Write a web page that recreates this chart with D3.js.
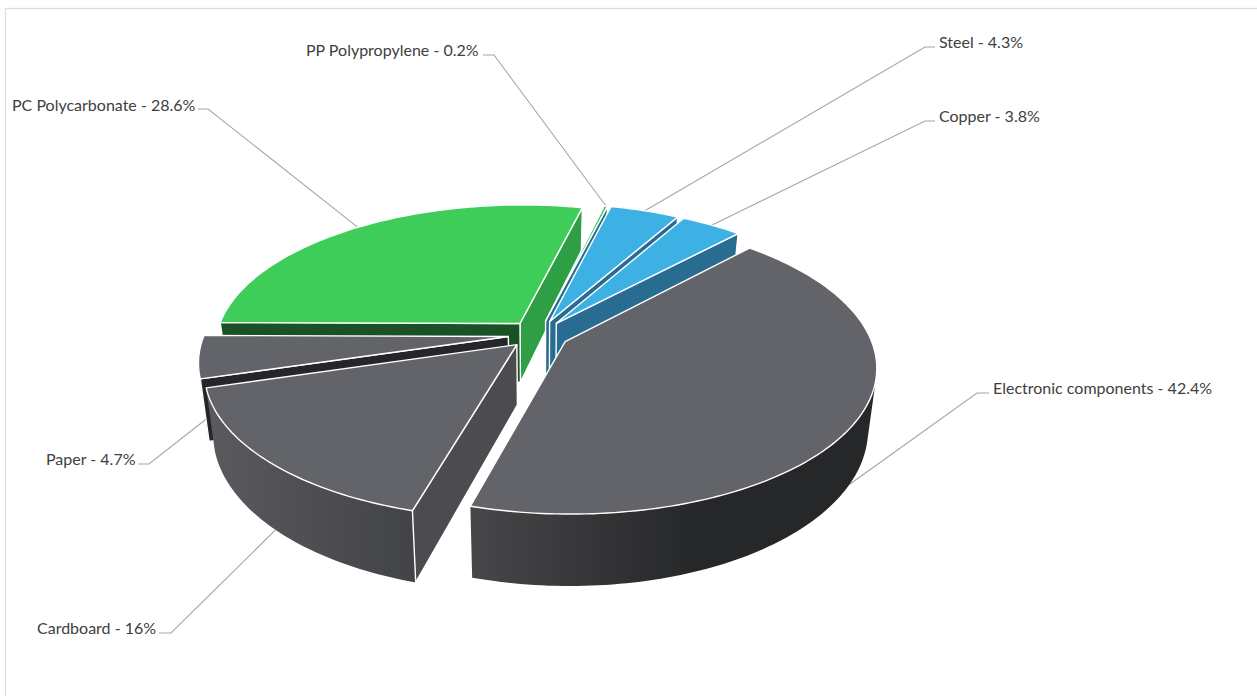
<!DOCTYPE html>
<html>
<head>
<meta charset="utf-8">
<title>Material composition</title>
<script src="https://cdn.jsdelivr.net/npm/d3@7"></script>
<style>
	body { margin: 0; background: #fff; }
	text { font-family: Lato, sans-serif; font-size: 16px; fill: #404040; }
</style>
</head>
<body>
<div id="chart"></div>
<script>
// Chart data, clockwise from the first slice
var categories = ["Electronic components", "Cardboard", "Paper", "PC Polycarbonate", "PP Polypropylene", "Steel", "Copper"];
var shares = [42.4, 16, 4.7, 28.6, 0.2, 4.3, 3.8];
var shareLabels = ["42.4%", "16%", "4.7%", "28.6%", "0.2%", "4.3%", "3.8%"];

// Colours per slice
var topColors = ["#626469", "#626469", "#626469", "#3dcd58", "#3dcd58", "#3eb1e4", "#3eb1e4"];
var startWallColors = ["#262729", "#4c4b50", "#252628", "#1a5226", "#286d91", "#286d91", "#286d91"];
var endWallColors = ["#262729", "#4c4b50", "#252628", "#2f9f45", "#286d91", "#286d91", "#286d91"];
var rimLeftColors = ["#47474a", "#5a5a5f", "#252628", "#2f9f45", "#286d91", "#286d91", "#286d91"];
var rimRightColors = ["#262729", "#424346", "#252628", "#2f9f45", "#286d91", "#286d91", "#286d91"];

// Label layout: text start, baseline and the elbow of the leader line
var labelX = [993, 37, 46, 12, 306, 939, 939];
var labelY = [394, 634, 465, 110.5, 56, 48, 122];
var elbowX = [977, 171, 149, 208, 494, 925, 925];
var elbowY = [393, 633, 464, 109, 55, 47, 121];
var lineStartX = [989, 159, 138, 198, 483, 935, 935];
var frontSlice = [true, true, true, false, false, false, false];

var width = 1257, height = 696;
var centerX = 538.5, centerY = 334.5;
var radiusX = 304, radiusY = 141.5;
var perspective = 0.165, explode = 0.1;
var wallHeight = 59.5, bottomShrink = 0.974;

var xScale = d3.scaleLinear().domain([-1, 1]).range([centerX - radiusX, centerX + radiusX]);
var yScale = d3.scaleLinear().domain([-1, 1]).range([centerY - radiusY, centerY + radiusY]);

var svg = d3.select("#chart").append("svg").attr("width", width).attr("height", height);
var defs = svg.append("defs");
var line = d3.line();

// Outer frame of the chart area, it runs off the picture on the right and bottom
svg.append("rect").attr("x", 5.5).attr("y", 8.5).attr("width", width + 20).attr("height", height + 20)
	.attr("fill", "none").attr("stroke", "#dedede").attr("stroke-width", 1.3);

// Projects a point of the pie plane on the screen. top == false gives the point under it on the bottom face.
function project(u, v, top){
	var w = 1 - perspective * v;
	var x = xScale(u / w), y = yScale(v / w);
	if(!top){
		x = centerX + (x - centerX) * bottomShrink;
		y = y + wallHeight / w;
	}
	return [x, y];
}

// Plane position of the slice apex (r=0) or of a point on its rim (r=1), moved out along the slice middle
function planePoint(slice, angle, r){
	var mid = (slice.startAngle + slice.endAngle) / 2;
	return [explode * Math.sin(mid) + r * Math.sin(angle), -explode * Math.cos(mid) - r * Math.cos(angle)];
}

function screenPoint(slice, angle, r, top){
	var p = planePoint(slice, angle, r);
	return project(p[0], p[1], top);
}

function rimPoints(slice, top){
	var steps = Math.max(2, Math.ceil((slice.endAngle - slice.startAngle) / 0.02));
	return d3.range(steps + 1).map(function(i){
		return screenPoint(slice, slice.startAngle + (slice.endAngle - slice.startAngle) * i / steps, 1, top);
	});
}

function wallPoints(slice, angle){
	return [screenPoint(slice, angle, 0, true), screenPoint(slice, angle, 1, true),
		screenPoint(slice, angle, 1, false), screenPoint(slice, angle, 0, false)];
}

function drawFace(group, points, fill){
	group.append("path").attr("d", line(points) + "Z").attr("fill", fill)
		.attr("stroke", "#fff").attr("stroke-width", 1.4).attr("stroke-linejoin", "round");
}

// Round wall as one path of small quads, all wound the same way so the folds at the pie's sides stay filled
function drawRimWall(group, rimTop, rimBottom, fill){
	var d = "";
	for(var k = 0; k < rimTop.length - 1; k++){
		var quad = [rimTop[k], rimTop[k + 1], rimBottom[k + 1], rimBottom[k]];
		if(d3.polygonArea(quad) < 0){
			quad.reverse();
		}
		d += line(quad) + "Z";
	}
	group.append("path").attr("d", d).attr("fill", fill);
}

// The first slice starts so that PC Polycarbonate starts at the left of the pie (the chart is turned a little more)
var shareSum = d3.sum(shares);
var firstAngle = 1.5 * Math.PI + 0.007 - 2 * Math.PI * d3.sum(shares.slice(0, 3)) / shareSum;
var slices = d3.pie().sort(null).startAngle(firstAngle).endAngle(firstAngle + 2 * Math.PI)(shares);

// Leader lines go under the pie
slices.forEach(function(slice, i){
	var mid = (slice.startAngle + slice.endAngle) / 2;
	var end = screenPoint(slice, mid, 1, !frontSlice[i]);
	svg.append("path").attr("d", line([[lineStartX[i], elbowY[i]], [elbowX[i], elbowY[i]], end]))
		.attr("fill", "none").attr("stroke", "#a6a6a6").attr("stroke-width", 1.1);
	svg.append("text").attr("x", labelX[i]).attr("y", labelY[i]).text(categories[i] + " - " + shareLabels[i]);
});

// Painter's order: the back slices first, then left to right over the front
var drawOrder = [3, 4, 5, 6, 2, 1, 0];
drawOrder.forEach(function(i){
	var slice = slices[i];
	var group = svg.append("g");
	var rimTop = rimPoints(slice, true), rimBottom = rimPoints(slice, false);
	var xs = rimTop.concat(rimBottom).map(function(p){ return p[0]; });

	var gradientId = "rim" + i;
	var gradient = defs.append("linearGradient").attr("id", gradientId).attr("gradientUnits", "userSpaceOnUse")
		.attr("x1", d3.min(xs)).attr("x2", d3.min(xs) + (d3.max(xs) - d3.min(xs)) * (i == 0 ? 0.55 : 1)).attr("y1", 0).attr("y2", 0);
	gradient.append("stop").attr("offset", 0).attr("stop-color", rimLeftColors[i]);
	gradient.append("stop").attr("offset", 1).attr("stop-color", rimRightColors[i]);

	drawRimWall(group, rimTop, rimBottom, "url(#" + gradientId + ")");
	if(Math.sin(slice.endAngle) > 0){
		drawFace(group, wallPoints(slice, slice.endAngle), endWallColors[i]);
	}
	if(Math.sin(slice.startAngle) < 0){
		drawFace(group, wallPoints(slice, slice.startAngle), startWallColors[i]);
	}
	drawFace(group, [screenPoint(slice, slice.startAngle, 0, true)].concat(rimTop), topColors[i]);
});
</script>
</body>
</html>
